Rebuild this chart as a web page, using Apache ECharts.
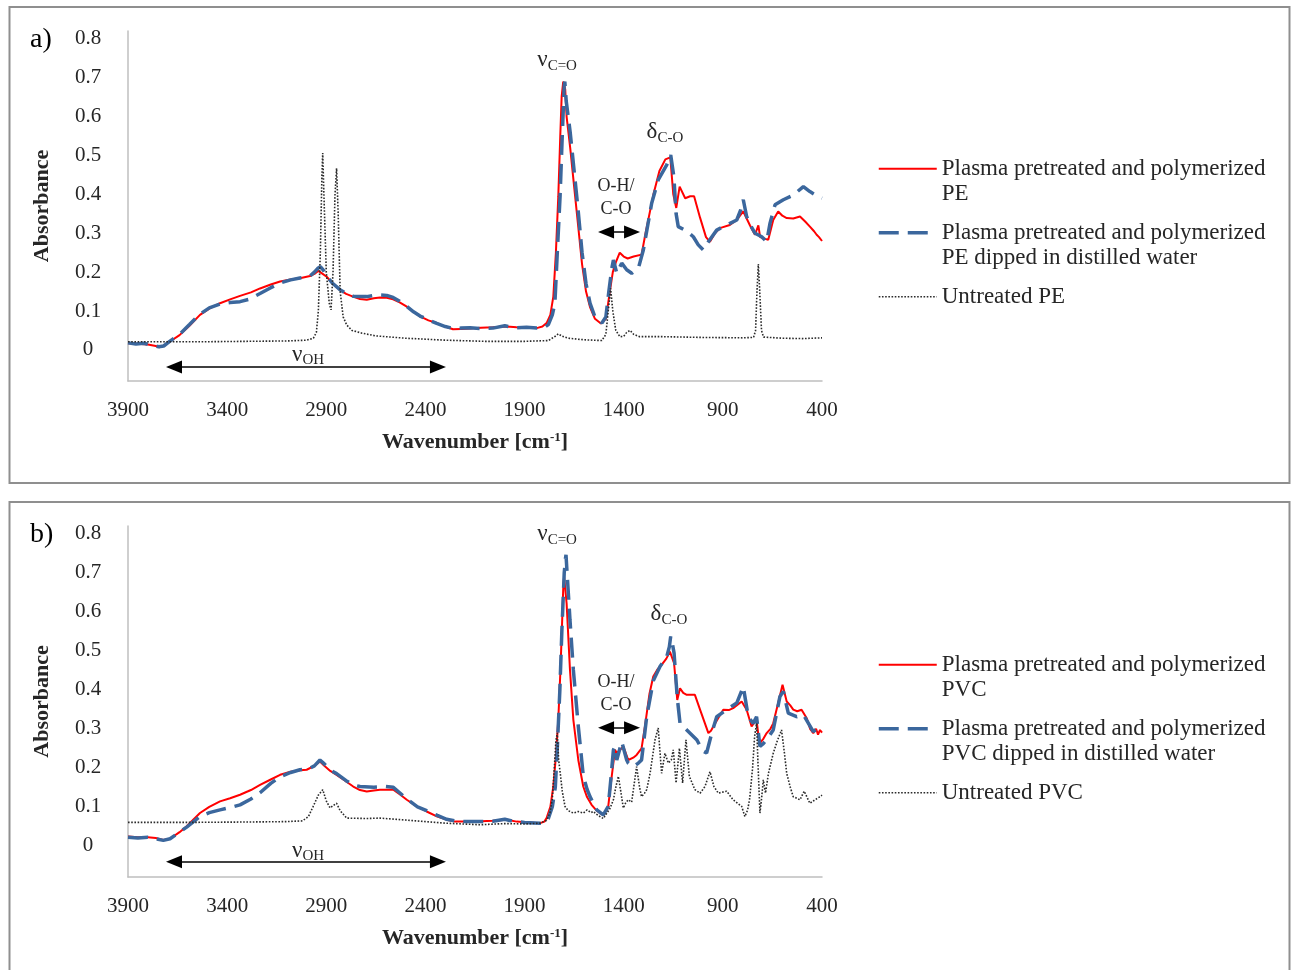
<!DOCTYPE html>
<html>
<head>
<meta charset="utf-8">
<script src="https://cdn.jsdelivr.net/npm/echarts@6/dist/echarts.min.js"></script>
<style>
html,body{margin:0;padding:0;background:#fff;}
#chart{width:1295px;height:970px;}
</style>
</head>
<body>
<div id="chart"></div>
<script>
// ---------- tick labels ----------
const yTicks = [0, 0.1, 0.2, 0.3, 0.4, 0.5, 0.6, 0.7, 0.8];
const xTickStep = 500;

// ---------- series names ----------
const namesPE = [
  'Plasma pretreated and polymerized\nPE',
  'Plasma pretreated and polymerized\nPE dipped in distilled water',
  'Untreated PE'
];
const namesPVC = [
  'Plasma pretreated and polymerized\nPVC',
  'Plasma pretreated and polymerized\nPVC dipped in distilled water',
  'Untreated PVC'
];

// ---------- panel a) PE : [wavenumber, absorbance] ----------
const pePlasma = [[3900,0.017],[3850,0.016],[3800,0.014],[3760,0.010],[3740,0.007],[3715,0.012],[3690,0.021],[3640,0.038],[3590,0.062],[3537,0.09],[3490,0.106],[3436,0.12],[3385,0.13],[3335,0.139],[3280,0.148],[3234,0.158],[3180,0.168],[3133,0.176],[3080,0.181],[3033,0.184],[2982,0.19],[2955,0.197],[2940,0.203],[2920,0.196],[2898,0.188],[2870,0.172],[2831,0.154],[2800,0.144],[2765,0.137],[2730,0.131],[2696,0.129],[2660,0.133],[2629,0.135],[2595,0.134],[2563,0.13],[2530,0.122],[2494,0.111],[2460,0.098],[2427,0.086],[2385,0.076],[2343,0.069],[2300,0.06],[2261,0.053],[2220,0.054],[2175,0.055],[2120,0.057],[2060,0.058],[1990,0.06],[1940,0.058],[1890,0.057],[1839,0.056],[1810,0.06],[1789,0.069],[1770,0.09],[1755,0.137],[1742,0.25],[1730,0.394],[1720,0.55],[1713,0.651],[1705,0.69],[1701,0.694],[1695,0.67],[1688,0.6],[1670,0.52],[1650,0.42],[1630,0.32],[1610,0.22],[1590,0.15],[1570,0.11],[1545,0.08],[1515,0.068],[1490,0.08],[1470,0.15],[1455,0.2],[1440,0.225],[1420,0.25],[1400,0.24],[1380,0.235],[1350,0.24],[1310,0.245],[1290,0.3],[1250,0.4],[1220,0.46],[1190,0.49],[1165,0.495],[1150,0.40],[1135,0.365],[1118,0.42],[1090,0.39],[1065,0.395],[1045,0.395],[1015,0.34],[985,0.29],[965,0.278],[940,0.3],[915,0.313],[865,0.321],[830,0.334],[797,0.356],[763,0.32],[738,0.296],[721,0.32],[712,0.29],[704,0.287],[671,0.283],[646,0.334],[621,0.356],[600,0.345],[578,0.339],[545,0.338],[511,0.343],[485,0.33],[461,0.317],[440,0.305],[427,0.296],[415,0.29],[400,0.28]];

const peDipped = [[3900,0.018],[3860,0.015],[3820,0.017],[3780,0.012],[3745,0.008],[3720,0.010],[3690,0.022],[3640,0.04],[3590,0.065],[3537,0.092],[3490,0.108],[3436,0.118],[3385,0.122],[3335,0.124],[3290,0.13],[3234,0.145],[3180,0.16],[3133,0.172],[3080,0.18],[3033,0.185],[2982,0.19],[2960,0.2],[2942,0.21],[2930,0.214],[2915,0.205],[2898,0.19],[2870,0.172],[2831,0.155],[2800,0.145],[2765,0.138],[2730,0.137],[2696,0.137],[2660,0.14],[2629,0.141],[2595,0.14],[2563,0.135],[2530,0.125],[2494,0.112],[2460,0.098],[2427,0.087],[2385,0.077],[2343,0.068],[2300,0.06],[2261,0.055],[2220,0.056],[2175,0.057],[2120,0.055],[2060,0.056],[2000,0.062],[1980,0.06],[1940,0.057],[1890,0.058],[1839,0.056],[1800,0.058],[1780,0.065],[1760,0.09],[1747,0.12],[1735,0.25],[1721,0.394],[1710,0.55],[1700,0.68],[1697,0.69],[1690,0.64],[1670,0.56],[1650,0.46],[1630,0.36],[1610,0.25],[1590,0.17],[1570,0.12],[1545,0.085],[1510,0.069],[1490,0.085],[1475,0.15],[1460,0.21],[1452,0.231],[1435,0.197],[1410,0.223],[1385,0.206],[1360,0.197],[1326,0.21],[1301,0.257],[1259,0.377],[1226,0.437],[1183,0.476],[1163,0.501],[1147,0.445],[1136,0.351],[1125,0.317],[1091,0.308],[1070,0.3],[1049,0.291],[1024,0.27],[999,0.257],[973,0.278],[931,0.308],[881,0.321],[830,0.334],[810,0.36],[797,0.386],[780,0.343],[760,0.32],[738,0.3],[704,0.291],[679,0.278],[662,0.326],[637,0.373],[595,0.386],[545,0.398],[494,0.42],[461,0.407],[419,0.394],[400,0.39]];

const peUntreated = [[3900,0.021],[3500,0.021],[3100,0.023],[3000,0.025],[2965,0.03],[2950,0.045],[2940,0.1],[2930,0.25],[2922,0.45],[2918,0.506],[2912,0.4],[2900,0.2],[2885,0.12],[2876,0.103],[2866,0.2],[2856,0.4],[2848,0.467],[2840,0.35],[2830,0.15],[2815,0.085],[2797,0.064],[2770,0.05],[2720,0.043],[2650,0.036],[2500,0.03],[2300,0.025],[2100,0.022],[1900,0.022],[1780,0.024],[1745,0.035],[1730,0.041],[1710,0.035],[1680,0.03],[1600,0.026],[1510,0.024],[1490,0.04],[1478,0.1],[1466,0.158],[1455,0.1],[1440,0.05],[1419,0.034],[1400,0.035],[1385,0.045],[1368,0.05],[1350,0.04],[1320,0.034],[1200,0.034],[1000,0.032],[800,0.031],[745,0.032],[735,0.05],[728,0.15],[721,0.221],[714,0.15],[705,0.05],[695,0.033],[600,0.03],[500,0.029],[400,0.031]];

// ---------- panel b) PVC : [wavenumber, absorbance] ----------
const pvcPlasma = [[3900,0.024],[3850,0.022],[3800,0.022],[3760,0.02],[3722,0.015],[3688,0.018],[3640,0.035],[3604,0.05],[3537,0.084],[3490,0.1],[3436,0.114],[3385,0.122],[3335,0.131],[3280,0.143],[3234,0.156],[3180,0.17],[3133,0.182],[3080,0.19],[3030,0.194],[2999,0.195],[2960,0.205],[2932,0.216],[2910,0.205],[2880,0.192],[2848,0.182],[2800,0.165],[2764,0.152],[2730,0.143],[2696,0.139],[2660,0.142],[2629,0.144],[2562,0.144],[2530,0.132],[2494,0.118],[2440,0.1],[2394,0.088],[2340,0.075],[2293,0.067],[2250,0.062],[2192,0.062],[2120,0.063],[2060,0.064],[1990,0.067],[1940,0.062],[1880,0.06],[1822,0.058],[1800,0.062],[1789,0.071],[1770,0.1],[1755,0.152],[1742,0.23],[1730,0.323],[1720,0.44],[1713,0.537],[1705,0.66],[1701,0.69],[1695,0.66],[1688,0.622],[1671,0.451],[1654,0.323],[1629,0.22],[1604,0.152],[1585,0.125],[1562,0.105],[1540,0.092],[1520,0.084],[1503,0.079],[1478,0.101],[1460,0.18],[1444,0.246],[1435,0.238],[1420,0.245],[1402,0.255],[1377,0.22],[1352,0.226],[1335,0.233],[1310,0.25],[1293,0.306],[1270,0.39],[1251,0.434],[1230,0.452],[1209,0.464],[1185,0.48],[1167,0.498],[1146,0.468],[1130,0.374],[1116,0.404],[1100,0.392],[1082,0.387],[1041,0.387],[1015,0.349],[973,0.289],[960,0.295],[948,0.306],[920,0.33],[898,0.349],[870,0.348],[848,0.353],[805,0.37],[780,0.349],[755,0.306],[743,0.315],[730,0.323],[720,0.28],[713,0.263],[695,0.275],[679,0.289],[660,0.3],[646,0.314],[621,0.366],[599,0.413],[578,0.37],[560,0.36],[545,0.349],[525,0.345],[503,0.349],[477,0.327],[460,0.3],[444,0.289],[430,0.3],[420,0.285],[410,0.297],[400,0.29]];

const pvcDipped = [[3900,0.022],[3850,0.02],[3800,0.022],[3760,0.018],[3722,0.014],[3688,0.018],[3640,0.035],[3604,0.048],[3537,0.075],[3490,0.085],[3436,0.092],[3385,0.098],[3335,0.105],[3280,0.12],[3234,0.136],[3180,0.16],[3133,0.177],[3080,0.188],[3033,0.195],[2990,0.197],[2960,0.205],[2932,0.22],[2910,0.21],[2880,0.194],[2848,0.185],[2800,0.167],[2764,0.156],[2730,0.152],[2660,0.15],[2600,0.152],[2562,0.15],[2530,0.136],[2494,0.12],[2440,0.1],[2394,0.09],[2340,0.078],[2293,0.068],[2250,0.064],[2192,0.062],[2120,0.062],[2060,0.063],[2000,0.068],[1960,0.063],[1900,0.06],[1822,0.058],[1800,0.06],[1780,0.07],[1760,0.1],[1745,0.15],[1735,0.25],[1722,0.4],[1712,0.55],[1700,0.7],[1693,0.74],[1691,0.746],[1688,0.72],[1671,0.579],[1654,0.451],[1629,0.306],[1604,0.18],[1585,0.145],[1570,0.126],[1536,0.092],[1503,0.079],[1478,0.101],[1465,0.17],[1452,0.246],[1444,0.255],[1435,0.22],[1427,0.22],[1410,0.267],[1406,0.267],[1385,0.22],[1377,0.212],[1352,0.203],[1343,0.199],[1326,0.212],[1310,0.22],[1284,0.331],[1251,0.423],[1217,0.46],[1183,0.485],[1170,0.51],[1163,0.537],[1155,0.52],[1146,0.494],[1130,0.38],[1116,0.314],[1082,0.297],[1032,0.272],[999,0.242],[982,0.238],[956,0.289],[931,0.331],[881,0.349],[830,0.366],[797,0.408],[772,0.331],[747,0.314],[730,0.331],[713,0.255],[696,0.262],[679,0.272],[646,0.297],[612,0.383],[595,0.396],[570,0.34],[528,0.331],[494,0.336],[444,0.293],[425,0.3],[410,0.306],[400,0.3]];

const pvcUntreated = [[3900,0.06],[3600,0.06],[3300,0.061],[3100,0.062],[3020,0.064],[2990,0.075],[2966,0.101],[2940,0.13],[2918,0.144],[2900,0.115],[2881,0.097],[2860,0.105],[2848,0.109],[2830,0.09],[2797,0.071],[2700,0.07],[2629,0.071],[2500,0.066],[2427,0.063],[2300,0.058],[2125,0.054],[2000,0.057],[1900,0.056],[1822,0.058],[1790,0.065],[1772,0.084],[1760,0.12],[1750,0.2],[1742,0.27],[1735,0.289],[1728,0.22],[1720,0.186],[1710,0.14],[1696,0.101],[1680,0.09],[1654,0.084],[1630,0.088],[1604,0.084],[1585,0.092],[1565,0.085],[1553,0.088],[1540,0.082],[1520,0.075],[1503,0.07],[1490,0.08],[1470,0.095],[1452,0.118],[1440,0.15],[1427,0.178],[1415,0.14],[1402,0.097],[1390,0.11],[1377,0.118],[1360,0.112],[1352,0.109],[1335,0.203],[1320,0.15],[1310,0.126],[1295,0.135],[1284,0.144],[1267,0.186],[1242,0.272],[1226,0.302],[1209,0.186],[1192,0.237],[1175,0.212],[1160,0.22],[1150,0.246],[1136,0.161],[1119,0.25],[1103,0.161],[1086,0.272],[1069,0.178],[1041,0.144],[1015,0.135],[990,0.152],[965,0.19],[945,0.152],[923,0.135],[881,0.14],[848,0.118],[805,0.101],[789,0.075],[775,0.092],[765,0.12],[750,0.2],[740,0.28],[730,0.314],[722,0.2],[713,0.084],[705,0.12],[696,0.169],[685,0.135],[670,0.186],[646,0.237],[625,0.27],[604,0.297],[590,0.24],[578,0.186],[560,0.15],[545,0.126],[511,0.118],[490,0.14],[461,0.109],[435,0.118],[410,0.126],[400,0.13]];

// ---------- annotation anchors (data coordinates) ----------
const annotA = { nuCO: [1736, 0.745], deltaCO: [1192, 0.56], ohco: [1439, 0.39], nuOH: [2992, -0.012],
                 ohArrow: [[1489, 0.303], [1358, 0.303]], nuOHArrow: [[3668, -0.044], [2337, -0.044]] };
const annotB = { nuCO: [1736, 0.8], deltaCO: [1172, 0.594], ohco: [1439, 0.39], nuOH: [2992, -0.012],
                 ohArrow: [[1489, 0.303], [1358, 0.303]], nuOHArrow: [[3668, -0.041], [2337, -0.041]] };

// ---------- styling ----------
const SERIF = '"Liberation Serif", "Times New Roman", serif';
const TXT = '#262626';
const AXIS = '#bfbfbf';
const RED = '#ff0000';
const BLUE = '#3b679d';
const DOT = '#2b2b2b';

const gridsPx = [
  { left: 128, width: 694, top: 31, height: 350 },
  { left: 128, width: 694, top: 526, height: 351 }
];

function xAxisFor(i) {
  return {
    gridIndex: i, type: 'value', inverse: true, min: 400, max: 3900, interval: xTickStep,
    axisLine: { show: true, onZero: false, lineStyle: { color: AXIS, width: 1.5 } },
    axisTick: { show: false }, splitLine: { show: false },
    axisLabel: { fontFamily: SERIF, fontSize: 21, color: TXT, margin: 19, formatter: v => String(v) },
    name: 'Wavenumber [cm{sup|-1}]',
    nameLocation: 'middle', nameGap: 50,
    nameTextStyle: {
      fontFamily: SERIF, fontSize: 22, fontWeight: 'bold', color: TXT,
      rich: { sup: { fontFamily: SERIF, fontSize: 13, fontWeight: 'bold', color: TXT, verticalAlign: 'top', padding: [0, 0, 10, 0] } }
    }
  };
}
function yAxisFor(i) {
  return {
    gridIndex: i, type: 'value', min: -0.08, max: 0.82,
    axisLine: { show: true, onZero: false, lineStyle: { color: AXIS, width: 1.5 } },
    axisTick: { show: false }, splitLine: { show: false },
    axisLabel: {
      customValues: yTicks,
      formatter: v => String(+(+v).toFixed(1)),
      fontFamily: SERIF, fontSize: 21, color: TXT, margin: 40, align: 'center'
    },
    name: 'Absorbance', nameLocation: 'middle', nameGap: 75, nameRotate: 90,
    nameTextStyle: { fontFamily: SERIF, fontSize: 22, fontWeight: 'bold', color: TXT }
  };
}

const richLab = {
  g: { fontFamily: SERIF, fontSize: 23, color: TXT },
  s: { fontFamily: SERIF, fontSize: 15, color: TXT, padding: [12, 0, 0, 0] }
};
function textPoint(coord, formatter) {
  return {
    coord: coord, value: 0,
    symbol: 'rect', symbolSize: 1, itemStyle: { color: 'rgba(0,0,0,0)' },
    label: { show: true, position: 'inside', formatter: formatter, rich: richLab,
             fontFamily: SERIF, fontSize: 18, color: TXT, lineHeight: 23 }
  };
}

function panelSeries(i, names, plasma, dipped, untreated, an) {
  return [
    { name: names[0], type: 'line', xAxisIndex: i, yAxisIndex: i, data: plasma,
      symbol: 'none', lineStyle: { color: RED, width: 2 }, itemStyle: { color: RED }, z: 2,
      markPoint: { silent: true, animation: false, data: [
        textPoint(an.nuCO, '{g|ν}{s|C=O}'),
        textPoint(an.deltaCO, '{g|δ}{s|C-O}'),
        textPoint(an.ohco, 'O-H/\nC-O'),
        textPoint(an.nuOH, '{g|ν}{s|OH}')
      ] } },
    { name: names[1], type: 'line', xAxisIndex: i, yAxisIndex: i, data: dipped,
      symbol: 'none', lineStyle: { color: BLUE, width: 3.5, type: [20, 9] }, itemStyle: { color: BLUE }, z: 3 },
    { name: names[2], type: 'line', xAxisIndex: i, yAxisIndex: i, data: untreated,
      symbol: 'none', lineStyle: { color: DOT, width: 1.6, type: [1.6, 1.6] }, itemStyle: { color: DOT }, z: 4,
      markLine: { silent: true, animation: false, symbol: ['triangle', 'triangle'], symbolSize: [13, 16],
        label: { show: false }, lineStyle: { color: '#000', width: 1.5, type: 'solid' },
        emphasis: { disabled: true },
        data: [
          [{ coord: an.nuOHArrow[0] }, { coord: an.nuOHArrow[1] }],
          [{ coord: an.ohArrow[0] }, { coord: an.ohArrow[1] }]
        ] } }
  ];
}

function legendFor(names, top) {
  const hideSym = { opacity: 0 };
  return {
    orient: 'vertical', left: 877, top: top, padding: 0, itemGap: -12.5,
    itemWidth: 58, itemHeight: 14, selectedMode: false,
    textStyle: { fontFamily: SERIF, fontSize: 23, lineHeight: 25.5, color: TXT },
    formatter: n => n.indexOf('\n') >= 0 ? '\n' + n : '\n' + n + '\n',
    data: [
      { name: names[0], lineStyle: { width: 2 }, itemStyle: hideSym },
      { name: names[1], lineStyle: { width: 3.5 }, itemStyle: hideSym },
      { name: names[2], lineStyle: { width: 1.6 }, itemStyle: hideSym }
    ]
  };
}

const chart = echarts.init(document.getElementById('chart'), null, { renderer: 'canvas' });
chart.setOption({
  animation: false,
  backgroundColor: '#ffffff',
  grid: gridsPx,
  xAxis: [xAxisFor(0), xAxisFor(1)],
  yAxis: [yAxisFor(0), yAxisFor(1)],
  legend: [legendFor(namesPE, 130.5), legendFor(namesPVC, 626.5)],
  graphic: [
    { type: 'rect', shape: { x: 9.5, y: 7, width: 1280, height: 476 }, style: { fill: 'none', stroke: '#8f8f8f', lineWidth: 2 }, silent: true },
    { type: 'rect', shape: { x: 9.5, y: 502, width: 1280, height: 480 }, style: { fill: 'none', stroke: '#8f8f8f', lineWidth: 2 }, silent: true },
    { type: 'text', x: 30, y: 40, style: { text: 'a)', fontFamily: SERIF, fontSize: 28, fill: '#000', verticalAlign: 'middle' }, silent: true },
    { type: 'text', x: 30, y: 535, style: { text: 'b)', fontFamily: SERIF, fontSize: 28, fill: '#000', verticalAlign: 'middle' }, silent: true }
  ],
  series: [].concat(
    panelSeries(0, namesPE, pePlasma, peDipped, peUntreated, annotA),
    panelSeries(1, namesPVC, pvcPlasma, pvcDipped, pvcUntreated, annotB)
  )
});
</script>
</body>
</html>
